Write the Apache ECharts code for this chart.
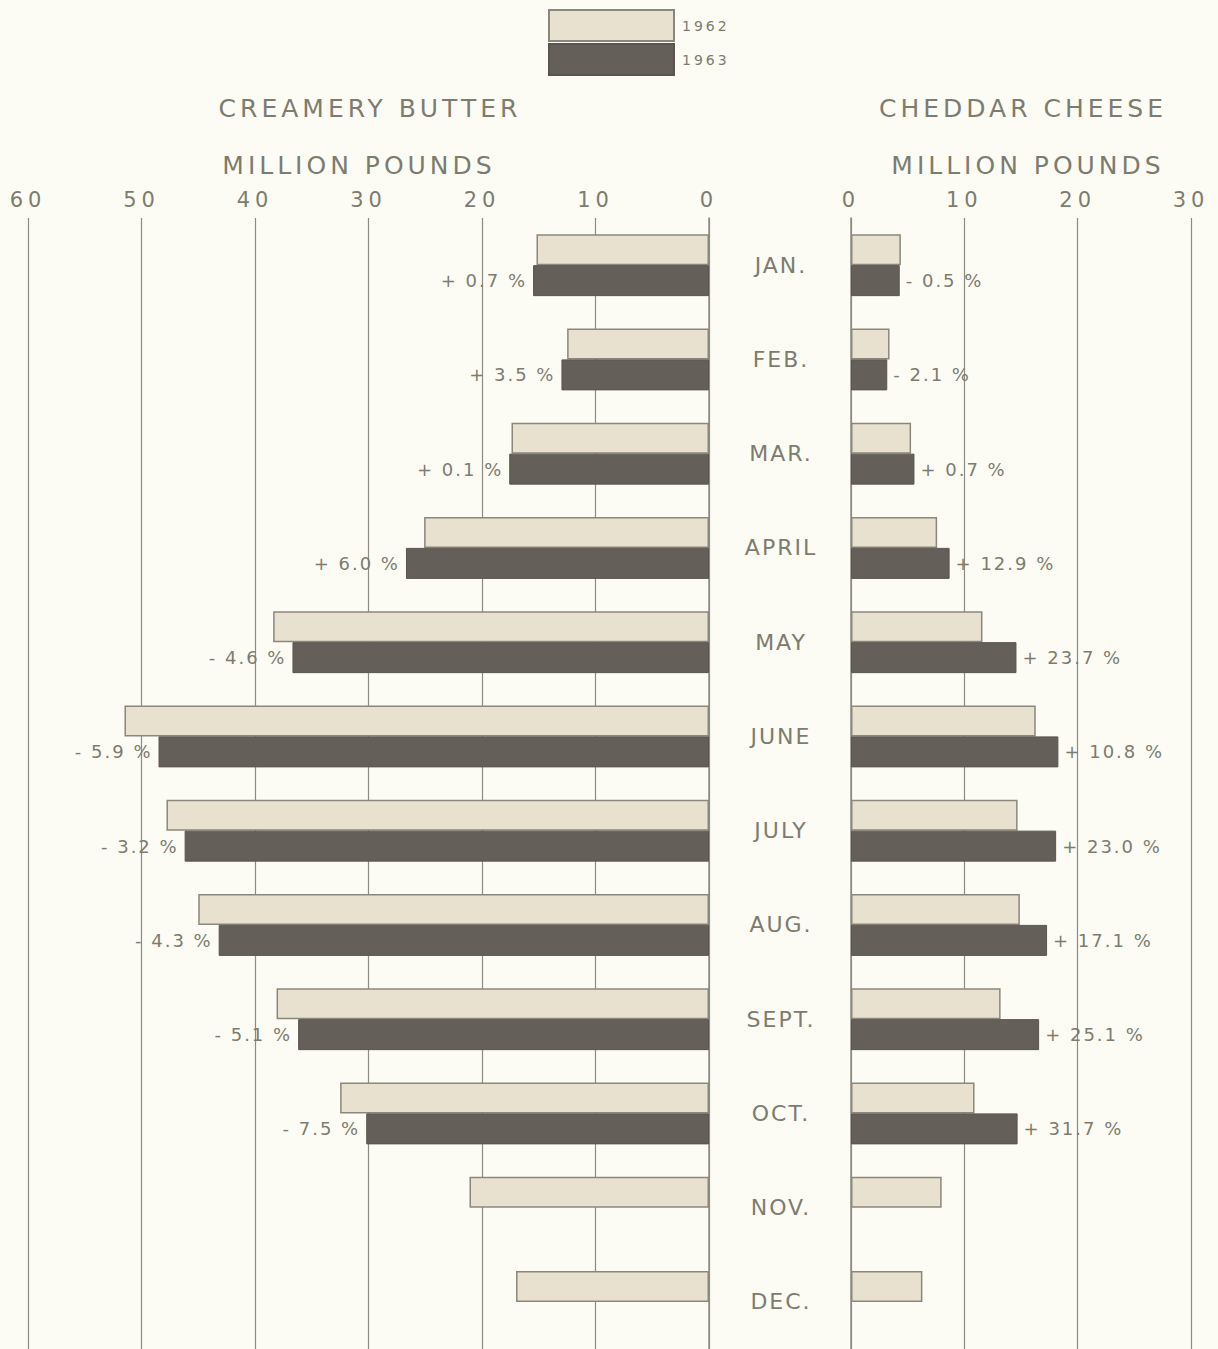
<!DOCTYPE html>
<html>
<head>
<meta charset="utf-8">
<script src="https://cdn.jsdelivr.net/npm/echarts@6/dist/echarts.min.js"></script>
<style>
  html, body { margin: 0; padding: 0; background: #fcfcf4; }
  #chart { width: 1218px; height: 1349px; }
  #chart text { letter-spacing: 2px; }
  #chart text[style*="25px"] { letter-spacing: 4px; }
  #chart text[style*="21px"] { letter-spacing: 5px; }
  #chart text[style*="22px"] { letter-spacing: 2px; }
  #chart text[style*="14px"] { letter-spacing: 3px; }
</style>
</head>
<body>
<div id="chart"></div>
<script>
const months = ["JAN.", "FEB.", "MAR.", "APRIL", "MAY", "JUNE", "JULY", "AUG.", "SEPT.", "OCT.", "NOV.", "DEC."];
const years = ["1962", "1963"];

// creamery butter, million pounds
const butter1962 = [15.2, 12.5, 17.4, 25.1, 38.4, 51.5, 47.8, 45.0, 38.1, 32.5, 21.1, 17.0];
const butter1963 = [15.5, 13.0, 17.6, 26.7, 36.7, 48.5, 46.2, 43.2, 36.2, 30.2, null, null];
const butterChange = ["+ 0.7 %", "+ 3.5 %", "+ 0.1 %", "+ 6.0 %", "- 4.6 %", "- 5.9 %", "- 3.2 %", "- 4.3 %", "- 5.1 %", "- 7.5 %", "", ""];

// cheddar cheese, million pounds
const cheese1962 = [4.4, 3.4, 5.3, 7.6, 11.6, 16.3, 14.7, 14.9, 13.2, 10.9, 8.0, 6.3];
const cheese1963 = [4.3, 3.2, 5.6, 8.7, 14.6, 18.3, 18.1, 17.3, 16.6, 14.7, null, null];
const cheeseChange = ["- 0.5 %", "- 2.1 %", "+ 0.7 %", "+ 12.9 %", "+ 23.7 %", "+ 10.8 %", "+ 23.0 %", "+ 17.1 %", "+ 25.1 %", "+ 31.7 %", "", ""];

const FONT = "DejaVu Sans";
const TEXT = "#7c7c70";
const LINE = "#8c8c82";
const LIGHT = "#e8e1d0";
const DARK = "#645f58";

const chart = echarts.init(document.getElementById("chart"), null, { renderer: "svg" });

const barBase = {
  type: "bar",
  barWidth: 31,
  barGap: "0%",
  silent: true
};

const titleStyle = { fontFamily: FONT, fontSize: 25, fontWeight: "normal", color: TEXT };

const option = {
  backgroundColor: "#fcfcf4",
  animation: false,
  textStyle: { fontFamily: FONT, color: TEXT },
  title: [
    { text: "CREAMERY BUTTER", left: 365, top: 91, textAlign: "center", textStyle: titleStyle },
    { text: "MILLION POUNDS", left: 354, top: 148, textAlign: "center", textStyle: titleStyle },
    { text: "CHEDDAR CHEESE", left: 1018, top: 91, textAlign: "center", textStyle: titleStyle },
    { text: "MILLION POUNDS", left: 1023, top: 148, textAlign: "center", textStyle: titleStyle }
  ],
  legend: {
    data: years,
    orient: "vertical",
    left: 548,
    top: 9,
    padding: 0,
    itemWidth: 125,
    itemHeight: 31,
    itemGap: 1,
    icon: "rect",
    textStyle: { fontFamily: FONT, fontSize: 14, color: TEXT, padding: [0, 0, 0, 3] }
  },
  grid: [
    { left: 28, width: 681, top: 218, height: 1140 },
    { left: 851, width: 340, top: 218, height: 1140 }
  ],
  xAxis: [
    {
      gridIndex: 0, type: "value", position: "top", inverse: true,
      min: 0, max: 60, interval: 10,
      axisLine: { show: false }, axisTick: { show: false },
      axisLabel: { fontFamily: FONT, fontSize: 21, color: TEXT, margin: 8 },
      splitLine: { show: true, lineStyle: { color: LINE, width: 1.2 } }
    },
    {
      gridIndex: 1, type: "value", position: "top",
      min: 0, max: 30, interval: 10,
      axisLine: { show: false }, axisTick: { show: false },
      axisLabel: { fontFamily: FONT, fontSize: 21, color: TEXT, margin: 8 },
      splitLine: { show: true, lineStyle: { color: LINE, width: 1.2 } }
    }
  ],
  yAxis: [
    {
      gridIndex: 0, type: "category", data: months, inverse: true, position: "right",
      axisLine: { show: true, lineStyle: { color: LINE, width: 1.5 } },
      axisTick: { show: false },
      axisLabel: { fontFamily: FONT, fontSize: 22, color: TEXT, margin: 72, align: "center" }
    },
    {
      gridIndex: 1, type: "category", data: months, inverse: true, position: "left",
      axisLine: { show: true, lineStyle: { color: LINE, width: 1.5 } },
      axisTick: { show: false },
      axisLabel: { show: false }
    }
  ],
  series: [
    Object.assign({}, barBase, {
      name: "1962", xAxisIndex: 0, yAxisIndex: 0, data: butter1962,
      itemStyle: { color: LIGHT, borderColor: "#8a877d", borderWidth: 1.5 }
    }),
    Object.assign({}, barBase, {
      name: "1963", xAxisIndex: 0, yAxisIndex: 0, data: butter1963,
      itemStyle: { color: DARK, borderColor: "#5a564f", borderWidth: 1 },
      label: {
        show: true, position: "left", distance: 6,
        fontFamily: FONT, fontSize: 18, color: TEXT,
        formatter: p => butterChange[p.dataIndex]
      }
    }),
    Object.assign({}, barBase, {
      name: "1962", xAxisIndex: 1, yAxisIndex: 1, data: cheese1962,
      itemStyle: { color: LIGHT, borderColor: "#8a877d", borderWidth: 1.5 }
    }),
    Object.assign({}, barBase, {
      name: "1963", xAxisIndex: 1, yAxisIndex: 1, data: cheese1963,
      itemStyle: { color: DARK, borderColor: "#5a564f", borderWidth: 1 },
      label: {
        show: true, position: "right", distance: 6,
        fontFamily: FONT, fontSize: 18, color: TEXT,
        formatter: p => cheeseChange[p.dataIndex]
      }
    })
  ]
};

chart.setOption(option);
</script>
</body>
</html>
